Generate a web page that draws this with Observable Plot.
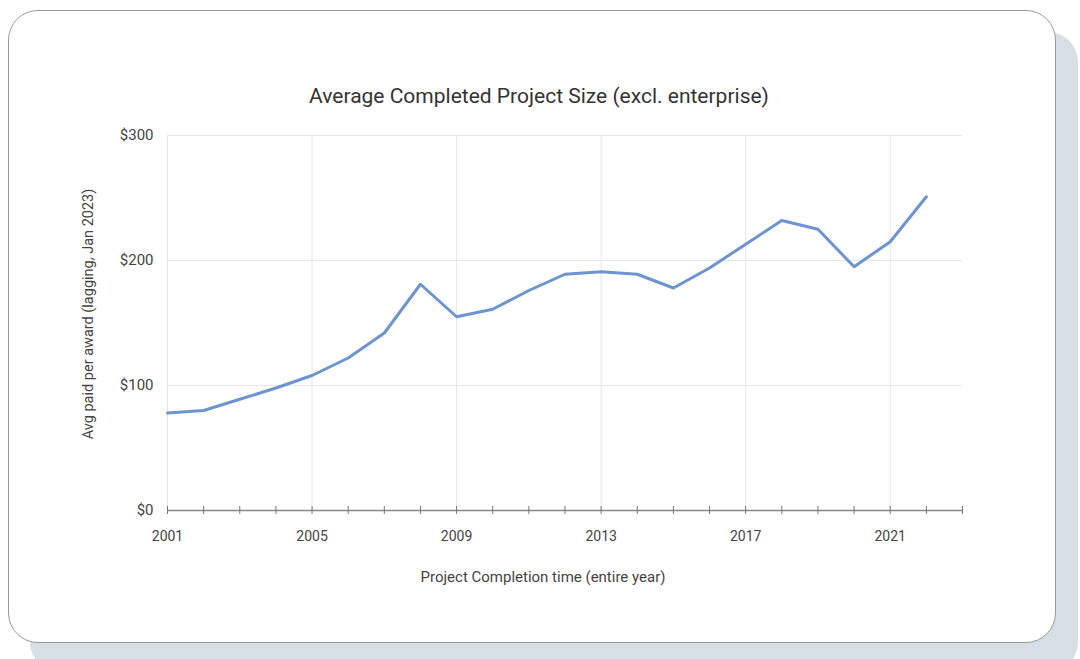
<!DOCTYPE html>
<html>
<head>
<meta charset="utf-8">
<script src="https://cdn.jsdelivr.net/npm/d3@7"></script>
<script src="https://cdn.jsdelivr.net/npm/@observablehq/plot@0.6"></script>
<style>
  html, body { margin: 0; padding: 0; background: #fff; width: 1080px; height: 659px; overflow: hidden; font-family: Roboto, "Noto Sans", sans-serif; }
  .shadow { position: absolute; left: 30px; top: 32px; width: 1048px; height: 640px; background: #d7dfe6; border-radius: 30px; }
  .card { position: absolute; left: 8px; top: 10px; width: 1046px; height: 631px; background: #fff; border: 1px solid #9a9a9a; border-radius: 30px; }
  .title { position: absolute; left: 0; width: 1078px; top: 84px; text-align: center; font-size: 21px; color: #333; font-family: Roboto, sans-serif; }
  #chart { position: absolute; left: 0; top: 120px; }
</style>
</head>
<body>
<div class="shadow"></div>
<div class="card"></div>
<div class="title">Average Completed Project Size (excl. enterprise)</div>
<div id="chart"></div>
<script>
// Average paid per award by completion year
const years = [2001, 2002, 2003, 2004, 2005, 2006, 2007, 2008, 2009, 2010, 2011,
               2012, 2013, 2014, 2015, 2016, 2017, 2018, 2019, 2020, 2021, 2022];
const avgPaid = [78, 80, 89, 98, 108, 122, 142, 181, 155, 161, 176,
                 189, 191, 189, 178, 194, 213, 232, 225, 195, 215, 251];

const tickYears = d3.range(2001, 2024);
const labelYears = [2001, 2005, 2009, 2013, 2017, 2021];
const yTicks = [0, 100, 200, 300];
const xTitle = "Project Completion time (entire year)";
const yTitle = "Avg paid per award (lagging, Jan 2023)";

const data = years.map((year, i) => ({year, value: avgPaid[i]}));

const chart = Plot.plot({
  width: 1080,
  height: 480,
  marginLeft: 167,
  marginRight: 118,
  marginTop: 15,
  marginBottom: 90,
  style: {fontFamily: "Roboto, sans-serif", fontSize: "14px", color: "#444", background: "transparent"},
  x: {domain: [2001, 2023]},
  y: {domain: [0, 300]},
  marks: [
    // light grid
    Plot.gridY(yTicks.slice(1), {stroke: "#e6e6e6", strokeOpacity: 1, strokeWidth: 1}),
    Plot.gridX(labelYears, {stroke: "#e6e6e6", strokeOpacity: 1, strokeWidth: 1}),
    // y axis labels
    Plot.axisY(yTicks, {tickSize: 0, tickPadding: 14, tickFormat: d => "$" + d, label: null, fill: "#444", fontSize: 15}),
    // x baseline with cross ticks every year
    Plot.ruleY([0], {stroke: "#888", strokeWidth: 1.5}),
    Plot.axisX(tickYears, {tickSize: 8, dy: -4, tickFormat: () => "", label: null, stroke: "#777"}),
    Plot.axisX(labelYears, {tickSize: 0, tickPadding: 21, tickFormat: d => String(d), label: null, fill: "#444", fontSize: 14}),
    // axis titles
    Plot.text([xTitle], {frameAnchor: "bottom", dy: 71, dx: -22, fill: "#444", fontSize: 15}),
    Plot.text([yTitle], {frameAnchor: "left", dx: -79, dy: -9, rotate: -90, textAnchor: "middle", fill: "#444", fontSize: 14.5}),
    // series
    Plot.line(data, {x: "year", y: "value", stroke: "#6d93d1", strokeWidth: 3, strokeLinejoin: "round", strokeLinecap: "round"})
  ]
});
document.getElementById("chart").appendChild(chart);
</script>
</body>
</html>
